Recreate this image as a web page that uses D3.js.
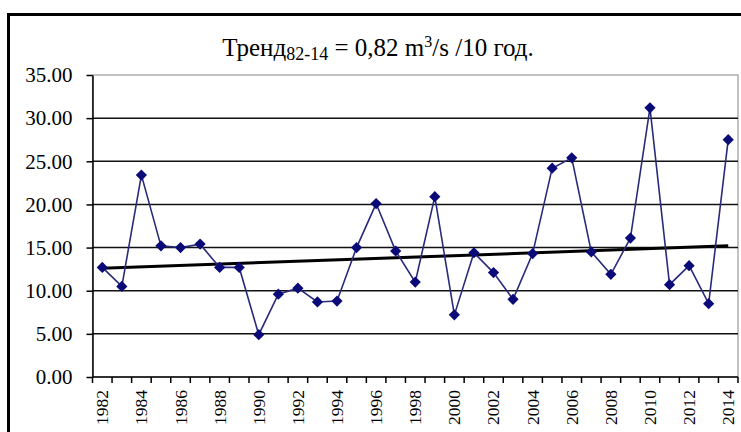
<!DOCTYPE html>
<html>
<head>
<meta charset="utf-8">
<script src="https://cdn.jsdelivr.net/npm/d3@7"></script>
<style>
  body { margin: 0; background: #fff; }
  text { font-family: "Liberation Serif", "Times New Roman", serif; fill: #000; }
</style>
</head>
<body>
<script>
// annual values, 1982-2014
var years = d3.range(1982, 2015);
var flow = [12.7, 10.5, 23.4, 15.2, 15.0, 15.4, 12.7, 12.7, 4.9, 9.6,
            10.3, 8.7, 8.8, 15.0, 20.1, 14.6, 11.0, 20.9, 7.2, 14.4,
            12.1, 9.0, 14.3, 24.2, 25.4, 14.5, 11.9, 16.1, 31.2, 10.7,
            12.9, 8.5, 27.5];
// trend line end points
var trendYears = [1982, 2014];
var trendVals = [12.6, 15.2];
var yTicks = [0, 5, 10, 15, 20, 25, 30, 35];

var w = 741, h = 432;
var plotL = 92.5, plotR = 738, plotT = 75, plotB = 377;

var svg = d3.select("body").append("svg")
  .attr("width", w)
  .attr("height", h);

// outer frame
svg.append("rect")
  .attr("x", 8.5).attr("y", 14.5)
  .attr("width", 800).attr("height", 500)
  .attr("fill", "none").attr("stroke", "#000").attr("stroke-width", 3);

var x = d3.scaleBand().domain(years).range([plotL, plotR]);
var y = d3.scaleLinear().domain([0, 35]).range([plotB, plotT]);

// plot border
svg.append("rect")
  .attr("x", plotL).attr("y", plotT)
  .attr("width", plotR - plotL).attr("height", plotB - plotT)
  .attr("fill", "none").attr("stroke", "#999").attr("stroke-width", 1.2);

// grid
svg.append("g").selectAll("line")
  .data(yTicks.filter(function(d) { return d > 0 && d < 35; }))
  .enter().append("line")
  .attr("x1", plotL).attr("x2", plotR)
  .attr("y1", function(d) { return y(d); })
  .attr("y2", function(d) { return y(d); })
  .attr("stroke", "#111").attr("stroke-width", 1.5);

// y axis
var yAxis = svg.append("g")
  .attr("transform", "translate(" + plotL + ",0)")
  .call(d3.axisLeft(y).tickValues(yTicks).tickFormat(d3.format(".2f"))
    .tickSize(6).tickPadding(14).tickSizeOuter(0));
yAxis.select(".domain").attr("stroke", "#000").attr("stroke-width", 1.5);
yAxis.selectAll(".tick line").attr("stroke", "#000").attr("stroke-width", 1.5);
yAxis.selectAll("text").style("font-size", "21px").style("font-family", "Liberation Serif");

// x axis line + ticks between categories
svg.append("line")
  .attr("x1", plotL).attr("x2", plotR)
  .attr("y1", plotB).attr("y2", plotB)
  .attr("stroke", "#000").attr("stroke-width", 1.5);

var bounds = years.map(function(d) { return x(d); }).concat([plotR]);
svg.append("g").selectAll("line")
  .data(bounds)
  .enter().append("line")
  .attr("x1", function(d) { return d; }).attr("x2", function(d) { return d; })
  .attr("y1", plotB).attr("y2", plotB + 6)
  .attr("stroke", "#000").attr("stroke-width", 1.5);

svg.append("g").selectAll("text")
  .data(years.filter(function(d) { return d % 2 === 0; }))
  .enter().append("text")
  .attr("transform", function(d) {
    return "translate(" + (x(d) + x.bandwidth() / 2 + 6) + "," + (plotB + 13) + ") rotate(-90)";
  })
  .attr("text-anchor", "end")
  .style("font-size", "17.5px")
  .text(function(d) { return d; });

// trend
svg.append("path")
  .datum(trendYears.map(function(d, i) { return [d, trendVals[i]]; }))
  .attr("fill", "none").attr("stroke", "#000").attr("stroke-width", 3)
  .attr("d", d3.line()
    .x(function(d) { return x(d[0]) + x.bandwidth() / 2; })
    .y(function(d) { return y(d[1]); }));

// series
var pts = years.map(function(d, i) { return [d, flow[i]]; });
svg.append("path")
  .datum(pts)
  .attr("fill", "none").attr("stroke", "#2a2a7a").attr("stroke-width", 1.6)
  .attr("d", d3.line()
    .x(function(d) { return x(d[0]) + x.bandwidth() / 2; })
    .y(function(d) { return y(d[1]); }));

svg.append("g").selectAll("path")
  .data(pts)
  .enter().append("path")
  .attr("d", d3.symbol().type(d3.symbolDiamond2).size(80))
  .attr("transform", function(d) {
    return "translate(" + (x(d[0]) + x.bandwidth() / 2) + "," + y(d[1]) + ")";
  })
  .attr("fill", "#0a0a78");

// title
var title = svg.append("text")
  .attr("x", 378).attr("y", 56)
  .attr("text-anchor", "middle")
  .style("font-size", "25px");
title.append("tspan").text("Тренд");
title.append("tspan").attr("dy", 4).style("font-size", "18px").text("82-14");
title.append("tspan").attr("dy", -4).text(" = 0,82 m");
title.append("tspan").attr("dy", -9).style("font-size", "16px").text("3");
title.append("tspan").attr("dy", 9).text("/s /10 год.");
</script>
</body>
</html>
